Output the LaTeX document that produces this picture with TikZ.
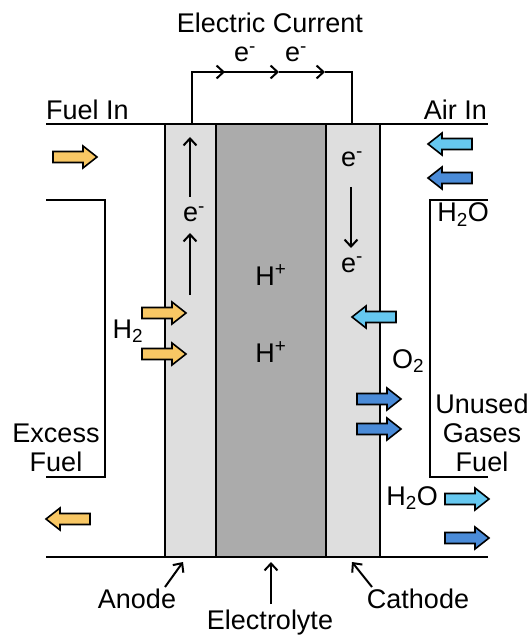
\documentclass[tikz,border=0pt]{standalone}
\usepackage{fontspec}
\setmainfont{Liberation Sans}
\usetikzlibrary{arrows.meta}
\definecolor{yel}{HTML}{F8C764}
\definecolor{lblue}{HTML}{66C8F0}
\definecolor{dblue}{HTML}{4A8BD8}
\definecolor{lgray}{HTML}{DEDEDE}
\definecolor{dgray}{HTML}{ABABAB}
\begin{document}
\begin{tikzpicture}[x=1pt,y=-1pt,
  lbl/.style={font=\fontsize{27}{31}\selectfont, inner sep=0pt, anchor=base},
  thinarrow/.style={line width=2pt,-{Straight Barb[length=7pt,width=13pt,line width=2pt]}},
  wall/.style={line width=2.2pt},
  barrow/.pic={\draw[line width=1.6pt, pic actions] (0,-5.5)--(30,-5.5)--(30,-11)--(44,0)--(30,11)--(30,5.5)--(0,5.5)--cycle;}]
\useasboundingbox (0,0) rectangle (529,636);
% cell layers
\draw[wall, fill=lgray] (165,124) rectangle (216,557);
\draw[wall, fill=dgray] (216,124) rectangle (326,557);
\draw[wall, fill=lgray] (326,124) rectangle (380,557);
% top and bottom lines
\draw[wall] (46,124) -- (488,124);
\draw[wall] (46,557) -- (488,557);
% brackets
\draw[wall] (46,200) -- (105,200) -- (105,477) -- (46,477);
\draw[wall] (488,200) -- (430,200) -- (430,477) -- (488,477);
% circuit
\coordinate (c0) at (192,124);
\coordinate (c1) at (192,72);
\coordinate (a1) at (225,72);
\coordinate (a2) at (279,72);
\coordinate (a3) at (325,72);
\coordinate (c2) at (352,72);
\coordinate (c3) at (352,124);
\draw[line width=2pt] (c0) -- (c1) -- (a1);
\draw[thinarrow] (c1) -- (a1);
\draw[thinarrow] (a1) -- (a2);
\draw[thinarrow] (a2) -- (a3);
\draw[line width=2pt] (a3) -- (c2) -- (c3);
% texts
\node[lbl] (ec) at (270,33) {Electric Current};
\node[lbl] (et1) at (245,62) {e\textsuperscript{-}};
\node[lbl] (et2) at (296,62) {e\textsuperscript{-}};
\node[lbl, anchor=base west] (fin) at (46,120) {Fuel In};
\node[lbl, anchor=base east] (ain) at (487,120) {Air In};
\node[lbl] (ex1) at (56,442) {Excess};
\node[lbl] (ex2) at (56,471) {Fuel};
\node[lbl] (un1) at (482,413) {Unused};
\node[lbl] (un2) at (482,442) {Gases};
\node[lbl] (un3) at (482,471) {Fuel};
\node[lbl] (h2) at (128,338) {H\textsubscript{2}};
\node[lbl] (o2) at (408,368) {O\textsubscript{2}};
\node[lbl] (h2oa) at (463,222) {H\textsubscript{2}O};
\node[lbl] (h2ob) at (412,505) {H\textsubscript{2}O};
\node[lbl] (hp1) at (271,285) {H\textsuperscript{+}};
\node[lbl] (hp2) at (271,362) {H\textsuperscript{+}};
% anode electrons
\node[lbl] (ea) at (194,222) {e\textsuperscript{-}};
\coordinate (ea1s) at (190,197);
\coordinate (ea1e) at (190,137);
\coordinate (ea2s) at (190,295);
\coordinate (ea2e) at (190,233);
\draw[thinarrow] (ea1s) -- (ea1e);
\draw[thinarrow] (ea2s) -- (ea2e);
% cathode electrons
\node[lbl] (ec1) at (352,167) {e\textsuperscript{-}};
\node[lbl] (ec2) at (352,272) {e\textsuperscript{-}};
\coordinate (ec1s) at (351,187);
\coordinate (ec1e) at (351,248);
\draw[thinarrow] (ec1s) -- (ec1e);
% bottom labels
\node[lbl] (an) at (137,608) {Anode};
\node[lbl] (el) at (270,629) {Electrolyte};
\node[lbl] (ca) at (418,608) {Cathode};
\coordinate (ant) at (165,587);
\coordinate (anh) at (183,562);
\coordinate (elt) at (271,604);
\coordinate (elh) at (271,562);
\coordinate (cat) at (372,587);
\coordinate (cah) at (352,562);
\draw[thinarrow] (ant) -- (anh);
\draw[thinarrow] (elt) -- (elh);
\draw[thinarrow] (cat) -- (cah);
% block arrows (yellow)
\pic[fill=yel] at (53,157) {barrow};
\pic[fill=yel] at (142,313) {barrow};
\pic[fill=yel] at (142,354) {barrow};
\pic[fill=yel, xscale=-1] at (90,519) {barrow};
% block arrows (blue)
\pic[fill=lblue, xscale=-1] at (472,144) {barrow};
\pic[fill=dblue, xscale=-1] at (472,178) {barrow};
\pic[fill=lblue, xscale=-1] at (396,317) {barrow};
\pic[fill=dblue] at (357,399) {barrow};
\pic[fill=dblue] at (357,429) {barrow};
\pic[fill=lblue] at (445,499) {barrow};
\pic[fill=dblue] at (445,538) {barrow};
\end{tikzpicture}
\end{document}
